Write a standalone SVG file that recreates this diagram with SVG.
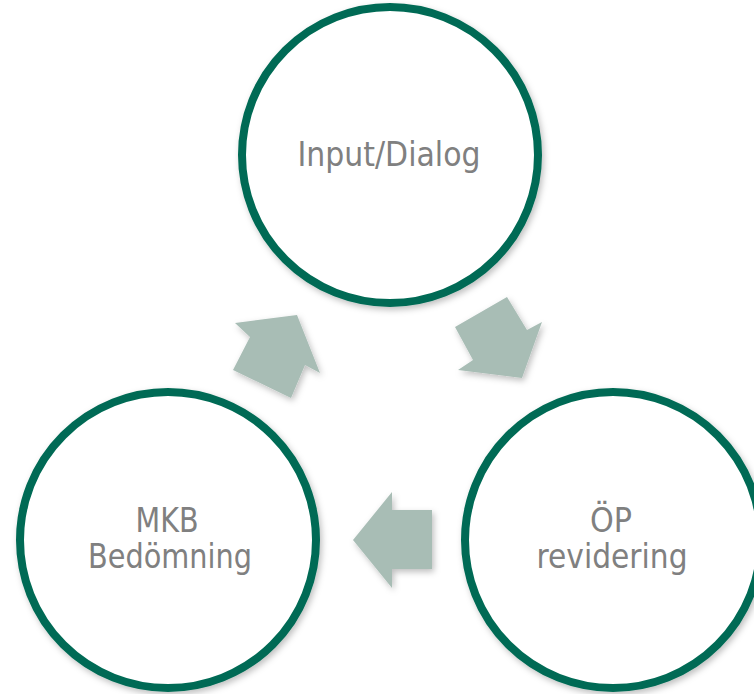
<svg xmlns="http://www.w3.org/2000/svg" width="754" height="694" viewBox="0 0 754 694">
  <defs>
    <filter id="sh" x="-20%" y="-20%" width="140%" height="140%">
      <feDropShadow dx="2" dy="3" stdDeviation="3" flood-color="#000" flood-opacity="0.25"/>
    </filter>
    <style>
      .ring { fill: #ffffff; stroke: #006b55; stroke-width: 8; filter: url(#sh); }
      .lbl { font-family: "DejaVu Sans", "Liberation Sans", sans-serif; font-size: 33px; fill: #808080; text-anchor: middle; }
      .arr { fill: #a8bdb5; filter: url(#sh); }
    </style>
  </defs>
  <rect width="754" height="694" fill="#ffffff"/>
  <g id="connectors">
    <polygon class="arr" points="233,370 250,337 235,323 297,315 320,373 305,365 291,398"/>
    <polygon class="arr" points="455,327 507,297 527,330 542,322 522,378 458,370 473,360"/>
    <polygon class="arr" points="432,510 392,510 392,492 353,540 392,588 392,569 432,569"/>
  </g>
  <g id="node-input">
    <circle class="ring" cx="390" cy="155" r="148"/>
    <text class="lbl" x="389" y="166" textLength="183" lengthAdjust="spacingAndGlyphs">Input/Dialog</text>
  </g>
  <g id="node-mkb">
    <circle class="ring" cx="168" cy="540" r="148"/>
    <text class="lbl" x="167" y="532" textLength="63" lengthAdjust="spacingAndGlyphs">MKB</text>
    <text class="lbl" x="170" y="568" textLength="164" lengthAdjust="spacingAndGlyphs">Bedömning</text>
  </g>
  <g id="node-op">
    <circle class="ring" cx="613" cy="540" r="148"/>
    <text class="lbl" x="611" y="532" textLength="42" lengthAdjust="spacingAndGlyphs">ÖP</text>
    <text class="lbl" x="612" y="568" textLength="151" lengthAdjust="spacingAndGlyphs">revidering</text>
  </g>
</svg>
